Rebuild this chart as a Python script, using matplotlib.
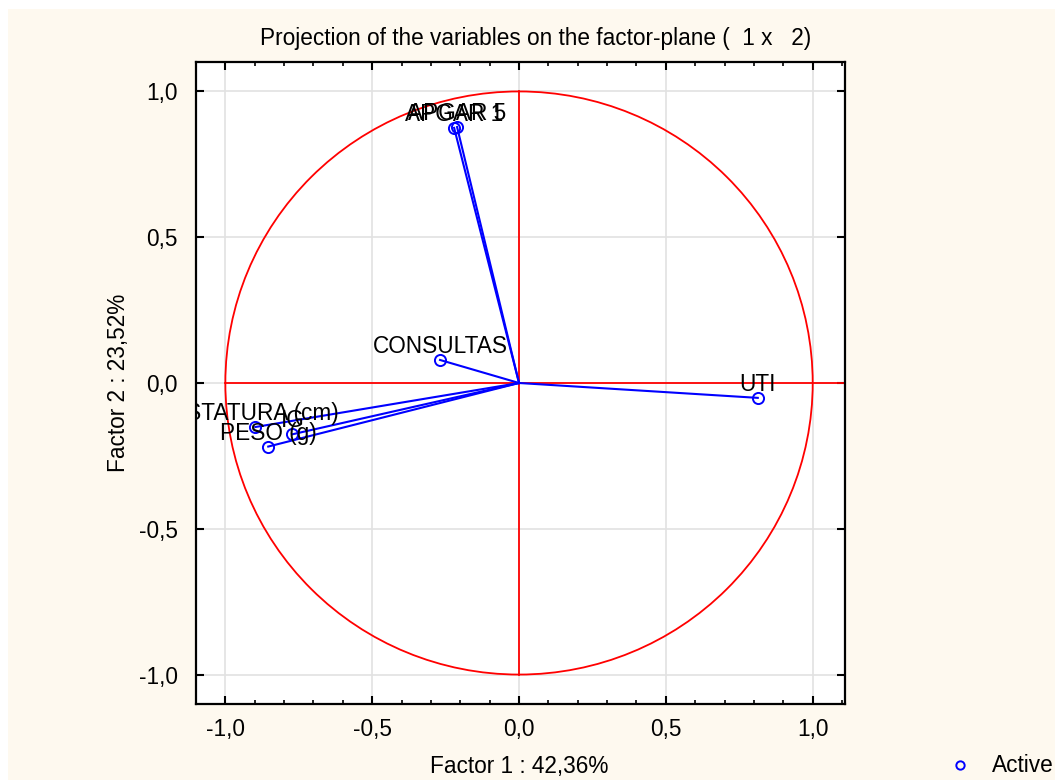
import numpy as np
import matplotlib
matplotlib.use("Agg")
import matplotlib.pyplot as plt
from matplotlib.patches import Circle, Rectangle
from matplotlib.lines import Line2D
from matplotlib.ticker import FuncFormatter, MultipleLocator

plt.rcParams['font.family'] = ['Liberation Sans', 'DejaVu Sans']

variables = ["APGAR 1", "APGAR 5", "CONSULTAS", "UTI", "ESTATURA (cm)", "IG", "PESO (g)"]
factor1 = [-0.221, -0.211, -0.269, 0.813, -0.898, -0.772, -0.854]
factor2 = [0.875, 0.878, 0.079, -0.051, -0.151, -0.176, -0.218]
ticks = [-1.0, -0.5, 0.0, 0.5, 1.0]

title = "Projection of the variables on the factor-plane (  1 x   2)"
xlabel = "Factor 1 : 42,36%"
ylabel = "Factor 2 : 23,52%"

fig = plt.figure(figsize=(10.55, 7.8), dpi=100)
fig.patch.set_facecolor("white")
fig.add_artist(Rectangle((8/1055, 0), 1 - 8/1055, 1 - 9/780, transform=fig.transFigure,
                         facecolor="#fef9ef", edgecolor="none", zorder=-10))

ax = fig.add_axes([196/1055, 1 - 704/780, 649/1055, 642/780])
ax.set_facecolor("white")
ax.set_xlim(-1.1, 1.11)
ax.set_ylim(-1.101, 1.101)

fs = 16.3
ax.xaxis.set_major_locator(MultipleLocator(0.5))
ax.xaxis.set_minor_locator(MultipleLocator(0.1))
ax.yaxis.set_major_locator(MultipleLocator(0.5))
fmt = FuncFormatter(lambda v, p: ("%.1f" % v).replace(".", ",").replace("-0,0", "0,0"))
ax.xaxis.set_major_formatter(fmt)
ax.yaxis.set_major_formatter(fmt)
ax.tick_params(which="both", direction="in", top=True, right=True, labelsize=fs, colors="black")
ax.tick_params(which="major", length=6, width=1.5)
ax.tick_params(axis="x", which="major", pad=10)
ax.tick_params(axis="y", which="major", pad=13)
ax.tick_params(which="minor", length=3, width=1.2)
ax.set_xticks(ticks)
ax.set_yticks(ticks)
ax.grid(True, which="major", color="#e2e2e2", lw=1.2, zorder=0)
for s in ax.spines.values():
    s.set_linewidth(1.6)
    s.set_color("black")

# unit circle and axes lines
ax.add_patch(Circle((0, 0), 1.0, fill=False, edgecolor="#ff0000", lw=1.3, zorder=2))
ax.plot([-1.0, 1.11], [0, 0], color="#ff0000", lw=1.3, zorder=2)
ax.plot([0, 0], [-1.0, 1.0], color="#ff0000", lw=1.3, zorder=2)

for name, xv, yv in zip(variables, factor1, factor2):
    ax.plot([0, xv], [0, yv], color="#0000ff", lw=1.5, zorder=3)
    ax.plot([xv], [yv], marker="o", ms=8, mfc="none", mec="#0000ff", mew=1.4, zorder=4)
    ax.annotate(name, (xv, yv), xytext=(0, 5), textcoords="offset points",
                ha="center", va="baseline", fontsize=fs, color="black",
                annotation_clip=False, clip_on=True, zorder=5)

fig.text(519/1055, 1 - 767/780, xlabel, ha="center", va="center", fontsize=fs)
fig.text(118/1055, 1 - 383/780, ylabel, ha="center", va="center", fontsize=fs, rotation=90)
fig.text(536/1055, 1 - 38/780, title, ha="center", va="center", fontsize=fs)

handle = Line2D([], [], ls="none", marker="o", ms=6, mfc="none", mec="#0000ff", mew=1.4)
fig.legend([handle], ["Active"], loc="center", bbox_to_anchor=(1000/1055, 1 - 766/780),
           frameon=False, fontsize=fs, handlelength=1.2, handletextpad=0.8)

fig.savefig("out.png", dpi=100)
